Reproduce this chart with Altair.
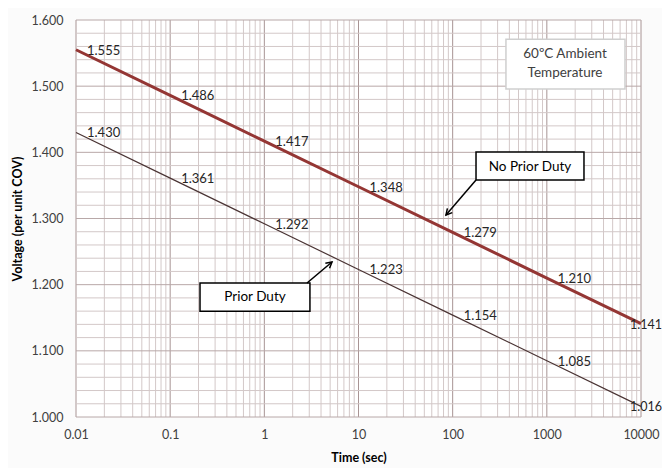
import altair as alt
import pandas as pd

# ---- data ----
times = [0.01, 0.1, 1, 10, 100, 1000, 10000]
no_prior = [1.555, 1.486, 1.417, 1.348, 1.279, 1.210, 1.141]
prior = [1.430, 1.361, 1.292, 1.223, 1.154, 1.085, 1.016]
x_ticks = [0.01, 0.1, 1, 10, 100, 1000, 10000]
y_ticks = [1.0, 1.1, 1.2, 1.3, 1.4, 1.5, 1.6]

# annotation boxes (data coordinates)
box_x1 = [368, 177, 0.2075]
box_x2 = [6760, 2480, 3.05]
box_y1 = [1.571, 1.4005, 1.2025]
box_y2 = [1.4957, 1.3582, 1.160]
box_stroke = ["#cfcfcf", "#000000", "#000000"]
box_text_x = [1560, 1560, 662, 0.796]
box_text_y = [1.5486, 1.5200, 1.3778, 1.1814]
box_text = ["60ºC Ambient", "Temperature", "No Prior Duty", "Prior Duty"]
box_text_color = ["#404040", "#404040", "#000000", "#000000"]

# arrows (start -> tip)
arr_x1 = [177, 2.84]
arr_y1 = [1.3582, 1.2025]
arr_x2 = [84.9, 5.23]
arr_y2 = [1.3053, 1.2343]
arr_angle = [221, 50]

# ---- tables ----
n = len(times)
df = pd.DataFrame({
    "t": times + times,
    "v": no_prior + prior,
    "series": ["No Prior Duty"] * n + ["Prior Duty"] * n,
    "last": [i == n - 1 for i in range(n)] * 2,
})

minor_x = []
for d in range(-2, 4):
    for k in range(1, 10):
        minor_x.append(k * 10 ** d)
minor_x.append(10000)
gx = pd.DataFrame({"x": minor_x, "major": [round(v, 8) in x_ticks for v in minor_x]})
gy_vals = [round(1.0 + 0.02 * i, 2) for i in range(31)]
gy = pd.DataFrame({"y": gy_vals, "major": [round(v, 2) in [round(t, 2) for t in y_ticks] for v in gy_vals]})

boxes = pd.DataFrame({"x1": box_x1, "x2": box_x2, "y1": box_y1, "y2": box_y2, "stroke": box_stroke})
btext = pd.DataFrame({"x": box_text_x, "y": box_text_y, "text": box_text, "c": box_text_color})
arrows = pd.DataFrame({"x1": arr_x1, "y1": arr_y1, "x2": arr_x2, "y2": arr_y2, "angle": arr_angle})

FONT = "Lato"
xscale = alt.Scale(type="log", domain=[0.01, 10000])
yscale = alt.Scale(domain=[1.0, 1.6])

xaxis = alt.Axis(values=x_ticks, labelExpr="format(datum.value, '~g')", grid=False, domain=False,
                 ticks=False, labelPadding=11, labelFont=FONT, labelFontSize=12.5, labelColor="#404040",
                 titleFont=FONT, titleFontSize=12.5, titleFontWeight="bold", titleColor="#000000",
                 titlePadding=11, labelFlush=False)
yaxis = alt.Axis(values=y_ticks, format=".3f", grid=False, domain=False, ticks=False, labelPadding=13,
                 labelFont=FONT, labelFontSize=12.5, labelColor="#404040", titleFont=FONT,
                 titleFontSize=12.5, titleFontWeight="bold", titleColor="#000000", titlePadding=7)


def X(f):
    return alt.X(f, type="quantitative", scale=xscale, axis=xaxis, title="Time (sec)")


def Y(f):
    return alt.Y(f, type="quantitative", scale=yscale, axis=yaxis, title="Voltage (per unit COV)")


grid_x = alt.Chart(gx).mark_rule(strokeWidth=1).encode(
    x=X("x"),
    color=alt.condition("datum.major", alt.value("#a89494"), alt.value("#d3c8c8")),
)
grid_y = alt.Chart(gy).mark_rule(strokeWidth=1).encode(
    y=Y("y"),
    color=alt.condition("datum.major", alt.value("#b8a8a8"), alt.value("#d3c8c8")),
)

lines = alt.Chart(df).mark_line().encode(
    x=X("t"),
    y=Y("v"),
    color=alt.Color("series:N", scale=alt.Scale(domain=["No Prior Duty", "Prior Duty"],
                                                range=["#943634", "#4a3434"]), legend=None),
    strokeWidth=alt.StrokeWidth("series:N", scale=alt.Scale(domain=["No Prior Duty", "Prior Duty"],
                                                           range=[3, 1.2]), legend=None),
)

lab_mid = alt.Chart(df).transform_filter("!datum.last").mark_text(
    align="left", baseline="middle", dx=11, dy=1, font=FONT, fontSize=13, color="#262626"
).encode(x=X("t"), y=Y("v"), text=alt.Text("v:Q", format=".3f"))
lab_end = alt.Chart(df).transform_filter("datum.last").mark_text(
    align="left", baseline="middle", dx=-11, dy=1, font=FONT, fontSize=12.5, color="#262626"
).encode(x=X("t"), y=Y("v"), text=alt.Text("v:Q", format=".3f"))

box = alt.Chart(boxes).mark_rect(fill="white", strokeWidth=1.5).encode(
    x=X("x1"), x2="x2", y=Y("y1"), y2="y2",
    stroke=alt.Stroke("stroke:N", scale=None),
)
box_lab = alt.Chart(btext).mark_text(font=FONT, fontSize=13.5, align="center", baseline="middle").encode(
    x=X("x"), y=Y("y"), text="text:N", color=alt.Color("c:N", scale=None)
)
arrow_line = alt.Chart(arrows).mark_rule(color="black", strokeWidth=1.5).encode(
    x=X("x1"), y=Y("y1"), x2="x2", y2="y2"
)
arrow_head = alt.Chart(arrows).mark_point(
    shape="M -0.55 1 L 0 0 L 0.55 1", filled=False, stroke="black", strokeWidth=1.5, size=140, opacity=1
).encode(x=X("x2"), y=Y("y2"), angle=alt.Angle("angle:Q", scale=None))

chart = alt.layer(
    grid_x, grid_y, lines, lab_mid, lab_end, box, box_lab, arrow_line, arrow_head
).properties(
    width=565, height=397, background="#fbfbfb",
    autosize=alt.AutoSizeParams(type="none"),
    padding={"left": 68, "top": 12, "right": 21, "bottom": 51},
).configure_view(stroke=None, fill="white")

chart.save("out.html", embed_options={"renderer": "svg", "actions": False})
